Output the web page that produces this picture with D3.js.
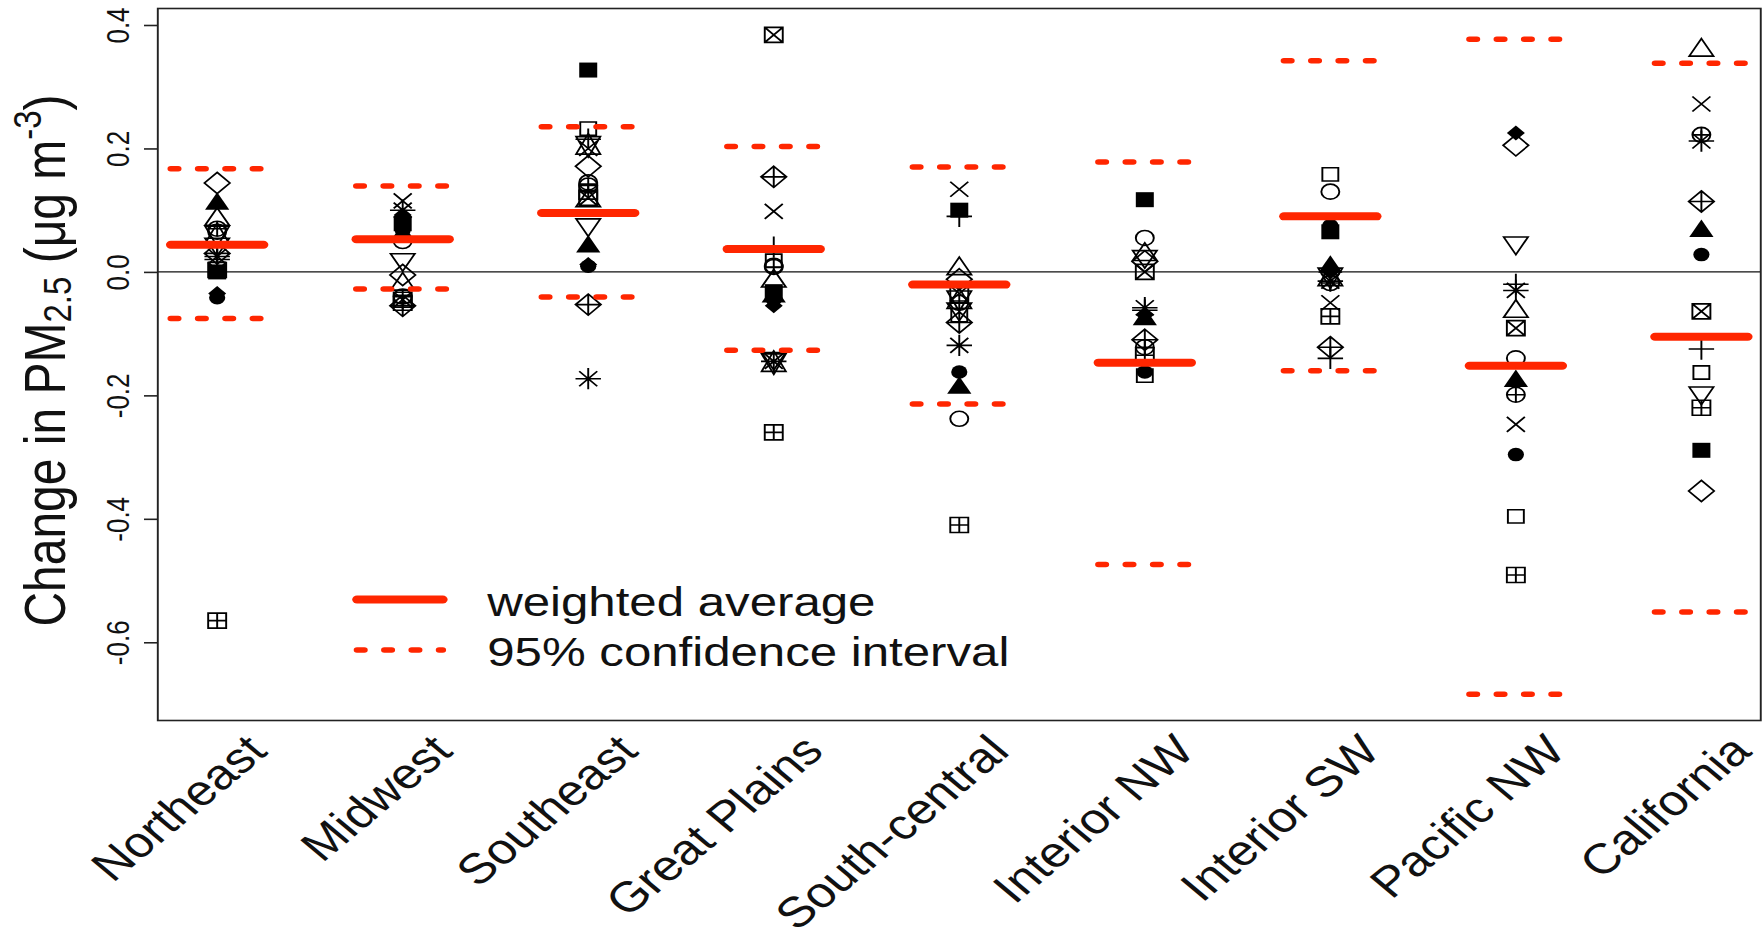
<!DOCTYPE html>
<html><head><meta charset="utf-8">
<script src="https://cdn.jsdelivr.net/npm/d3@7"></script>
<style>body{margin:0;background:#fff}svg{display:block}</style>
</head><body>
<svg id="chart" width="1763" height="938"></svg>
<script>
// ---------------- data ----------------
const regions = ["Northeast","Midwest","Southeast","Great Plains","South-central","Interior NW","Interior SW","Pacific NW","California"];
const weightedAvg = [0.044, 0.053, 0.0955, 0.037, -0.0205, -0.147, 0.09, -0.152, -0.105];
const ciLower = [-0.0756, -0.0275, -0.0405, -0.127, -0.214, -0.474, -0.16, -0.684, -0.551];
const ciUpper = [0.167, 0.139, 0.235, 0.203, 0.17, 0.178, 0.342, 0.377, 0.338];
const yTicks = [-0.6, -0.4, -0.2, 0.0, 0.2, 0.4];
const yTickLabels = ["-0.6", "-0.4", "-0.2", "0.0", "0.2", "0.4"];
const legendLabels = ["weighted average", "95% confidence interval"];

// model results by region (R plotting symbols); null = not visible
const pch0_square        = [0.005, null, 0.232, 0.018, -0.07, -0.168, 0.158, -0.396, -0.163];
const pch1_circle        = [0.065, 0.05, 0.145, 0.01, -0.238, 0.055, 0.13, -0.14, null];
const pch2_triangle      = [0.085, -0.02, 0.115, -0.015, 0.005, 0.028, null, -0.064, 0.359];
const pch3_plus          = [0.02, null, 0.215, 0.04, 0.09, -0.062, -0.14, -0.02, -0.125];
const pch4_cross         = [null, 0.115, 0.2, 0.098, 0.134, null, -0.05, -0.247, 0.272];
const pch5_diamond       = [0.144, -0.005, 0.171, null, -0.012, 0.017, null, 0.205, -0.355];
const pch6_triangleDown  = [0.045, 0.02, 0.0765, -0.14, -0.06, 0.025, null, 0.047, -0.196];
const pch7_squareCross   = [0.003, -0.045, 0.12, 0.384, -0.035, 0.0, null, -0.091, -0.064];
const pch8_asterisk      = [0.025, 0.1, -0.173, -0.145, -0.119, -0.058, -0.015, -0.03, 0.212];
const pch9_diamondPlus   = [0.03, -0.055, -0.053, 0.154, -0.082, -0.11, -0.122, null, 0.114];
const pch10_circlePlus   = [0.07, -0.04, 0.14, 0.008, -0.05, -0.122, -0.018, -0.199, 0.222];
const pch11_starDavid    = [0.06, null, 0.205, -0.147, -0.045, null, -0.008, null, null];
const pch12_squarePlus   = [-0.565, -0.05, 0.13, -0.26, -0.41, -0.135, -0.072, -0.491, -0.22];
const pch15_squareFilled = [0.0, 0.078, 0.327, -0.032, 0.1, 0.117, 0.065, null, -0.289];
const pch16_circleFilled = [-0.042, 0.068, 0.009, -0.045, -0.162, -0.162, 0.075, -0.296, 0.028];
const pch17_triFilled    = [0.11, 0.06, 0.041, -0.04, -0.188, -0.077, 0.008, -0.177, 0.066];
const pch18_diamFilled   = [-0.035, 0.092, 0.012, -0.055, null, -0.07, 0.0, 0.225, null];

const models = [
  {pch: 0, values: pch0_square}, {pch: 1, values: pch1_circle}, {pch: 2, values: pch2_triangle},
  {pch: 3, values: pch3_plus}, {pch: 4, values: pch4_cross}, {pch: 5, values: pch5_diamond},
  {pch: 6, values: pch6_triangleDown}, {pch: 7, values: pch7_squareCross}, {pch: 8, values: pch8_asterisk},
  {pch: 9, values: pch9_diamondPlus}, {pch: 10, values: pch10_circlePlus}, {pch: 11, values: pch11_starDavid},
  {pch: 12, values: pch12_squarePlus}, {pch: 15, values: pch15_squareFilled}, {pch: 16, values: pch16_circleFilled},
  {pch: 17, values: pch17_triFilled}, {pch: 18, values: pch18_diamFilled}
];

// ---------------- layout ----------------
const STRETCH = 1.2;           // the picture is stretched horizontally
const RED = "#ff2600";
const FONT = "'Liberation Sans', Arial, Helvetica, sans-serif";
const svg = d3.select("#chart");
const root = svg.append("g").attr("transform", `scale(${STRETCH},1)`);

const plot = {left: 131.5, right: 1467.3, top: 8.5, bottom: 720.5};

const allVals = [].concat(...models.map(m => m.values.filter(v => v != null)), ciLower, ciUpper, weightedAvg);
const ext = d3.extent(allVals);
const pad = (ext[1] - ext[0]) * 0.04;
const y = d3.scaleLinear().domain([ext[0] - pad, ext[1] + pad]).range([plot.bottom, plot.top]);
const x = d3.scaleLinear().domain([1 - 0.32, regions.length + 0.32]).range([plot.left, plot.right]);

// zero line
root.append("line").attr("x1", plot.left).attr("x2", plot.right)
  .attr("y1", y(0)).attr("y2", y(0)).attr("stroke", "#111").attr("stroke-width", 1.4);

// ---------- symbols (R pch) ----------
const R = 7.5;
function sq(h){return `M${-h},${-h}H${h}V${h}H${-h}Z`;}
function circ(r){return `M${-r},0A${r},${r} 0 1,0 ${r},0A${r},${r} 0 1,0 ${-r},0Z`;}
function plusP(h){return `M${-h},0H${h}M0,${-h}V${h}`;}
function crossP(h){return `M${-h},${-h}L${h},${h}M${-h},${h}L${h},${-h}`;}
function diam(h){return `M0,${-h}L${h},0L0,${h}L${-h},0Z`;}
function triUp(r){return `M0,${-1.555*r}L${1.347*r},${0.778*r}L${-1.347*r},${0.778*r}Z`;}
function triDown(r){return `M0,${1.555*r}L${1.347*r},${-0.778*r}L${-1.347*r},${-0.778*r}Z`;}
function star(r){
  return `M0,${-1.555*r}L${1.347*r},${1.166*r}L${-1.347*r},${1.166*r}Z` +
         `M0,${1.555*r}L${1.347*r},${-1.166*r}L${-1.347*r},${-1.166*r}Z`;
}
function symbolPath(pch){
  switch(pch){
    case 0: return sq(0.886*R);
    case 1: return circ(R);
    case 2: return triUp(R);
    case 3: return plusP(1.414*R);
    case 4: return crossP(R);
    case 5: return diam(1.414*R);
    case 6: return triDown(R);
    case 7: return sq(R) + crossP(R);
    case 8: return crossP(R) + plusP(1.414*R);
    case 9: return diam(1.414*R) + plusP(1.414*R);
    case 10: return circ(R) + plusP(R);
    case 11: return star(R);
    case 12: return sq(R) + plusP(R);
    case 15: return sq(R);
    case 16: return circ(R*0.9);
    case 17: return triUp(R);
    case 18: return diam(R);
  }
}
const filled = new Set([15,16,17,18]);

const pts = [];
models.forEach(m => m.values.forEach((v, i) => { if (v != null) pts.push({pch: m.pch, i, v}); }));

root.append("g").selectAll("path").data(pts).join("path")
  .attr("transform", d => `translate(${x(d.i + 1)},${y(d.v)})`)
  .attr("d", d => symbolPath(d.pch))
  .attr("fill", d => filled.has(d.pch) ? "#000" : "none")
  .attr("stroke", d => filled.has(d.pch) ? "none" : "#000")
  .attr("stroke-width", 1.6)
  .attr("stroke-linejoin", "miter");

// ---------- weighted averages and CIs ----------
const half = 0.25;
const gRed = root.append("g");
gRed.selectAll("line.avg").data(weightedAvg).join("line").attr("class", "avg")
  .attr("x1", (d, i) => x(i + 1 - half)).attr("x2", (d, i) => x(i + 1 + half))
  .attr("y1", d => y(d)).attr("y2", d => y(d))
  .attr("stroke", RED).attr("stroke-width", 8).attr("stroke-linecap", "round");
const ciAll = ciLower.map((v, i) => ({i, v})).concat(ciUpper.map((v, i) => ({i, v})));
gRed.selectAll("line.ci").data(ciAll).join("line").attr("class", "ci")
  .attr("x1", d => x(d.i + 1 - half)).attr("x2", d => x(d.i + 1 + half))
  .attr("y1", d => y(d.v)).attr("y2", d => y(d.v))
  .attr("stroke", RED).attr("stroke-width", 5.5).attr("stroke-linecap", "round")
  .attr("stroke-dasharray", "6.2 16.6");

// ---------- frame and axis ----------
root.append("rect").attr("x", plot.left).attr("y", plot.top)
  .attr("width", plot.right - plot.left).attr("height", plot.bottom - plot.top)
  .attr("fill", "none").attr("stroke", "#222").attr("stroke-width", 1.6);

const yAxis = d3.axisLeft(y).tickValues(yTicks).tickSize(11.5).tickFormat((d, i) => yTickLabels[i]);
const ga = root.append("g").attr("transform", `translate(${plot.left},0)`).call(yAxis);
ga.select(".domain").remove();
ga.selectAll(".tick line").attr("stroke", "#222").attr("stroke-width", 1.6);
ga.selectAll(".tick text")
  .attr("x", null).attr("dy", null)
  .attr("transform", "translate(-33,0) rotate(-90)")
  .attr("text-anchor", "middle").attr("dominant-baseline", "central")
  .attr("font-family", FONT).attr("font-size", 26).attr("fill", "#111");

// y label
const yl = root.append("text")
  .attr("transform", `translate(37,${(plot.top + plot.bottom) / 2 - 4}) rotate(-90)`)
  .attr("text-anchor", "middle").attr("dominant-baseline", "central")
  .attr("font-family", FONT).attr("font-size", 48).attr("fill", "#111");
yl.append("tspan").text("Change in PM");
yl.append("tspan").attr("font-size", 33).attr("dy", 10).text("2.5");
yl.append("tspan").attr("dy", -10).text(" (μg m");
yl.append("tspan").attr("font-size", 33).attr("dy", -15).text("-3");
yl.append("tspan").attr("dy", 15).text(")");

// category labels
root.append("g").selectAll("text").data(regions).join("text")
  .attr("transform", (d, i) => `translate(${x(i + 1) + 33},743) rotate(-45)`)
  .attr("text-anchor", "end").attr("dominant-baseline", "central")
  .attr("font-family", FONT).attr("font-size", 42.5).attr("fill", "#111")
  .text(d => d);

// legend
const lg = root.append("g");
const legendRows = [{w: 8, dash: null, yy: 599.5}, {w: 5.5, dash: "6.2 16.6", yy: 650}];
lg.selectAll("line").data(legendRows).join("line")
  .attr("x1", 297.5).attr("x2", 369).attr("y1", d => d.yy).attr("y2", d => d.yy)
  .attr("stroke", RED).attr("stroke-width", d => d.w).attr("stroke-linecap", "round")
  .attr("stroke-dasharray", d => d.dash);
lg.selectAll("text").data(legendRows).join("text")
  .attr("x", 406).attr("y", (d) => d.yy + 2).attr("dominant-baseline", "central")
  .attr("font-family", FONT).attr("font-size", 41).attr("fill", "#111")
  .text((d, i) => legendLabels[i]);
</script>
</body></html>
